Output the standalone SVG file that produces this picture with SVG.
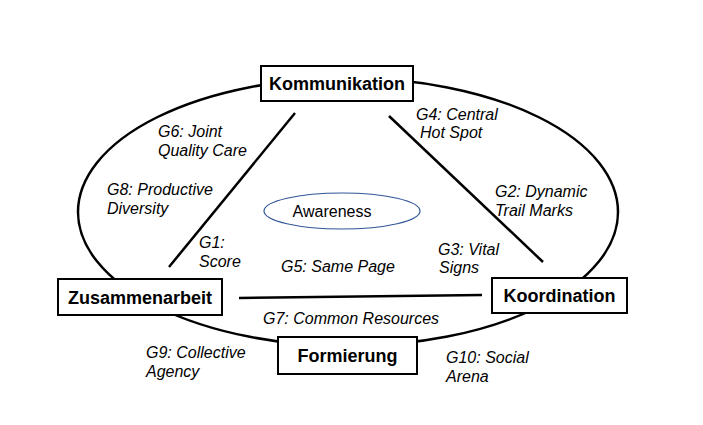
<svg xmlns="http://www.w3.org/2000/svg" width="703" height="425" viewBox="0 0 703 425">
<style>
.box{fill:#fff;stroke:#000;stroke-width:2}
.bt{font-family:"Liberation Sans",Arial,sans-serif;font-weight:bold;font-size:18px;fill:#000;text-anchor:middle}
.lb{font-family:"Liberation Sans",Arial,sans-serif;font-style:italic;font-size:16px;fill:#000}
.ln{stroke:#000;stroke-width:2.5;fill:none}
</style>
<rect width="703" height="425" fill="#fff"/>
<g id="connectors">
<ellipse class="ln" cx="348" cy="212" rx="270" ry="134"/>
<line class="ln" x1="295" y1="113" x2="169" y2="267"/>
<line class="ln" x1="389" y1="116" x2="543" y2="262"/>
<line class="ln" x1="239" y1="298" x2="482" y2="295"/>
</g>
<g id="awareness">
<ellipse cx="342" cy="211" rx="78" ry="18" fill="none" stroke="#2F5597" stroke-width="1.2"/>
<text x="332" y="217" font-family="'Liberation Sans',Arial,sans-serif" font-size="16" text-anchor="middle">Awareness</text>
</g>
<g id="kommunikation">
<rect class="box" x="261" y="66" width="152" height="35"/>
<text class="bt" x="337" y="90">Kommunikation</text>
</g>
<g id="zusammenarbeit">
<rect class="box" x="58" y="279" width="164" height="36"/>
<text class="bt" x="140" y="304">Zusammenarbeit</text>
</g>
<g id="koordination">
<rect class="box" x="492" y="278" width="135" height="35"/>
<text class="bt" x="559.5" y="302">Koordination</text>
</g>
<g id="formierung">
<rect class="box" x="278" y="337" width="139" height="37"/>
<text class="bt" x="347.5" y="362">Formierung</text>
</g>
<g id="labels">
<text class="lb" x="158" y="137">G6: Joint</text>
<text class="lb" x="158" y="156">Quality Care</text>
<text class="lb" x="107" y="195">G8: Productive</text>
<text class="lb" x="107" y="214">Diversity</text>
<text class="lb" x="199" y="248">G1:</text>
<text class="lb" x="199" y="267">Score</text>
<text class="lb" x="281" y="272">G5: Same Page</text>
<text class="lb" x="438" y="255">G3: Vital</text>
<text class="lb" x="439" y="273">Signs</text>
<text class="lb" x="495" y="197">G2: Dynamic</text>
<text class="lb" x="495" y="216">Trail Marks</text>
<text class="lb" x="416" y="120">G4: Central</text>
<text class="lb" x="420" y="138">Hot Spot</text>
<text class="lb" x="263" y="324">G7: Common Resources</text>
<text class="lb" x="146" y="358">G9: Collective</text>
<text class="lb" x="146" y="377">Agency</text>
<text class="lb" x="446" y="363">G10: Social</text>
<text class="lb" x="446" y="382">Arena</text>
</g>
</svg>
